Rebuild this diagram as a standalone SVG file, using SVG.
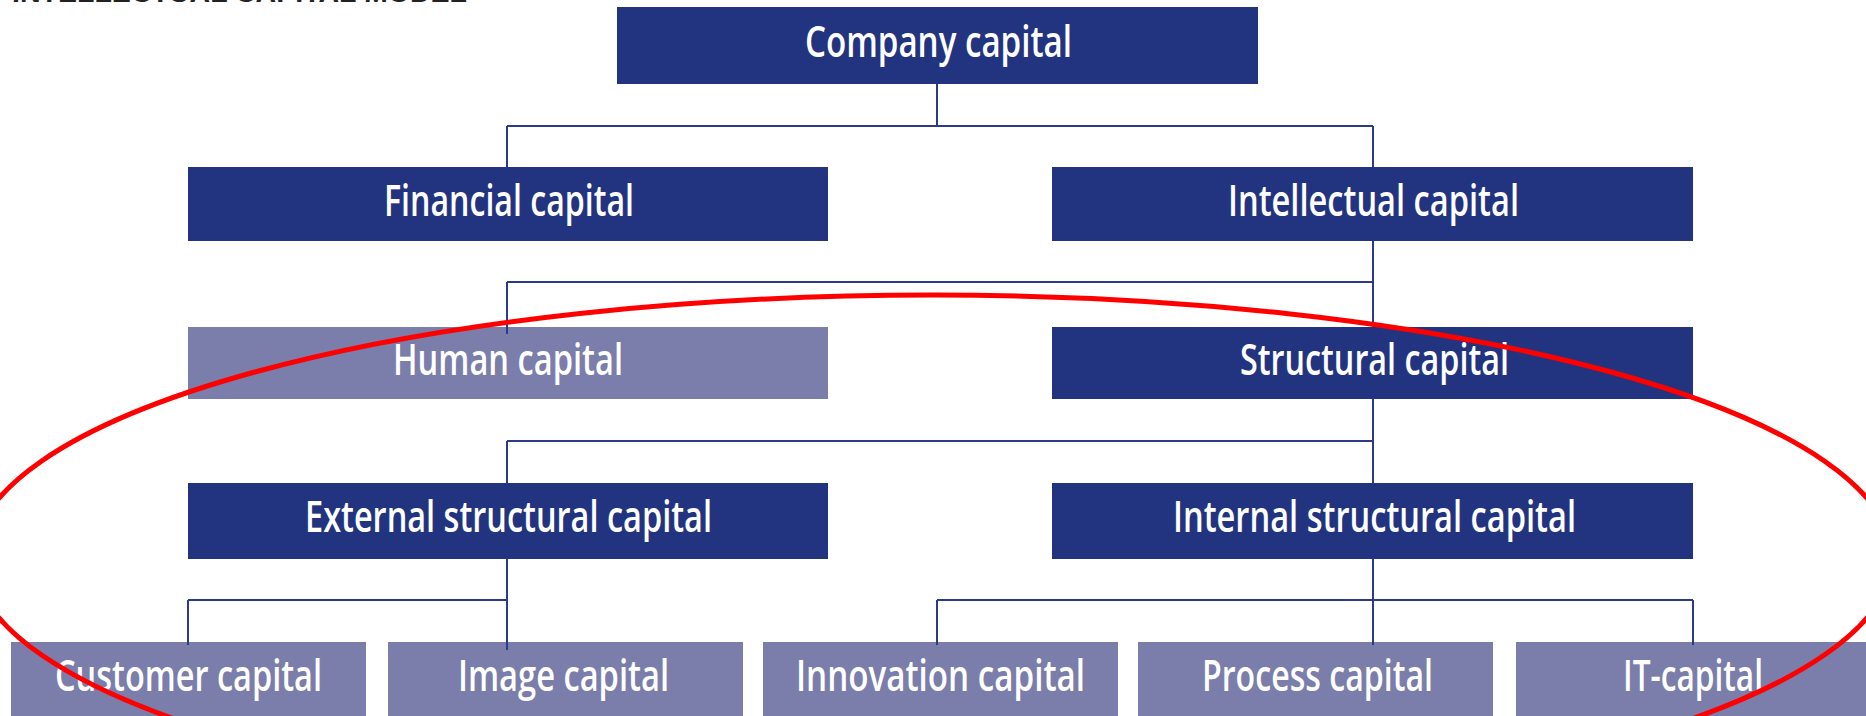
<svg xmlns="http://www.w3.org/2000/svg" width="1866" height="716" viewBox="0 0 1866 716">
  <style>
    .dark { fill: #22347f; }
    .light { fill: #7b7dab; }
    .lbl { fill: #ffffff; font-family: "Open Sans", "Liberation Sans", sans-serif; font-weight: 600; font-size: 44px; }
    .title { fill: #222222; font-family: "Liberation Sans", sans-serif; font-weight: 700; font-size: 26px; }
    .conn { fill: none; stroke: #2b3a8a; stroke-width: 2; }
    .ring { fill: none; stroke: #ff0000; stroke-width: 5; }
  </style>
  <rect width="1866" height="716" fill="#ffffff"/>
  <text class="title" x="12" y="1.5" textLength="455" lengthAdjust="spacingAndGlyphs">INTELLECTUAL CAPITAL MODEL</text>

  <g id="connectors">
    <path class="conn" d="M937 84 V126 M507 126 H1373 M507 126 V167 M1373 126 V167"/>
    <path class="conn" d="M1373 241 V327 M507 282 H1373 M507 282 V334"/>
    <path class="conn" d="M1373 399 V483 M507 441 H1373 M507 441 V483"/>
    <path class="conn" d="M507 559 V650 M188 600 H507 M188 600 V645"/>
    <path class="conn" d="M1373 559 V645 M937 600 H1693 M937 600 V645 M1693 600 V645"/>
  </g>

  <g id="company">
    <rect class="dark" x="617" y="7" width="641" height="77"/>
    <text class="lbl" x="805" y="57" textLength="267" lengthAdjust="spacingAndGlyphs">Company capital</text>
  </g>
  <g id="financial">
    <rect class="dark" x="188" y="167" width="640" height="74"/>
    <text class="lbl" x="384" y="216" textLength="250" lengthAdjust="spacingAndGlyphs">Financial capital</text>
  </g>
  <g id="intellectual">
    <rect class="dark" x="1052" y="167" width="641" height="74"/>
    <text class="lbl" x="1228" y="216" textLength="291" lengthAdjust="spacingAndGlyphs">Intellectual capital</text>
  </g>
  <g id="human">
    <rect class="light" x="188" y="327" width="640" height="72"/>
    <path class="conn" d="M507 327 V334"/>
    <text class="lbl" x="393" y="375" textLength="230" lengthAdjust="spacingAndGlyphs">Human capital</text>
  </g>
  <g id="structural">
    <rect class="dark" x="1052" y="327" width="641" height="72"/>
    <text class="lbl" x="1240" y="375" textLength="269" lengthAdjust="spacingAndGlyphs">Structural capital</text>
  </g>
  <g id="external">
    <rect class="dark" x="188" y="483" width="640" height="76"/>
    <text class="lbl" x="305" y="532" textLength="407" lengthAdjust="spacingAndGlyphs">External structural capital</text>
  </g>
  <g id="internal">
    <rect class="dark" x="1052" y="483" width="641" height="76"/>
    <text class="lbl" x="1173" y="532" textLength="403" lengthAdjust="spacingAndGlyphs">Internal structural capital</text>
  </g>
  <g id="customer">
    <rect class="light" x="11" y="642" width="355" height="80"/>
    <path class="conn" d="M188 642 V645"/>
    <text class="lbl" x="55" y="691" textLength="267" lengthAdjust="spacingAndGlyphs">Customer capital</text>
  </g>
  <g id="image">
    <rect class="light" x="388" y="642" width="355" height="80"/>
    <path class="conn" d="M507 642 V650"/>
    <text class="lbl" x="458" y="691" textLength="211" lengthAdjust="spacingAndGlyphs">Image capital</text>
  </g>
  <g id="innovation">
    <rect class="light" x="763" y="642" width="355" height="80"/>
    <path class="conn" d="M937 642 V645"/>
    <text class="lbl" x="796" y="691" textLength="289" lengthAdjust="spacingAndGlyphs">Innovation capital</text>
  </g>
  <g id="process">
    <rect class="light" x="1138" y="642" width="355" height="80"/>
    <path class="conn" d="M1373 642 V645"/>
    <text class="lbl" x="1202" y="691" textLength="231" lengthAdjust="spacingAndGlyphs">Process capital</text>
  </g>
  <g id="it">
    <rect class="light" x="1516" y="642" width="360" height="80"/>
    <path class="conn" d="M1693 642 V645"/>
    <text class="lbl" x="1623" y="691" textLength="140" lengthAdjust="spacingAndGlyphs">IT-capital</text>
  </g>

  <ellipse class="ring" cx="933" cy="558" rx="959" ry="263"/>
</svg>
